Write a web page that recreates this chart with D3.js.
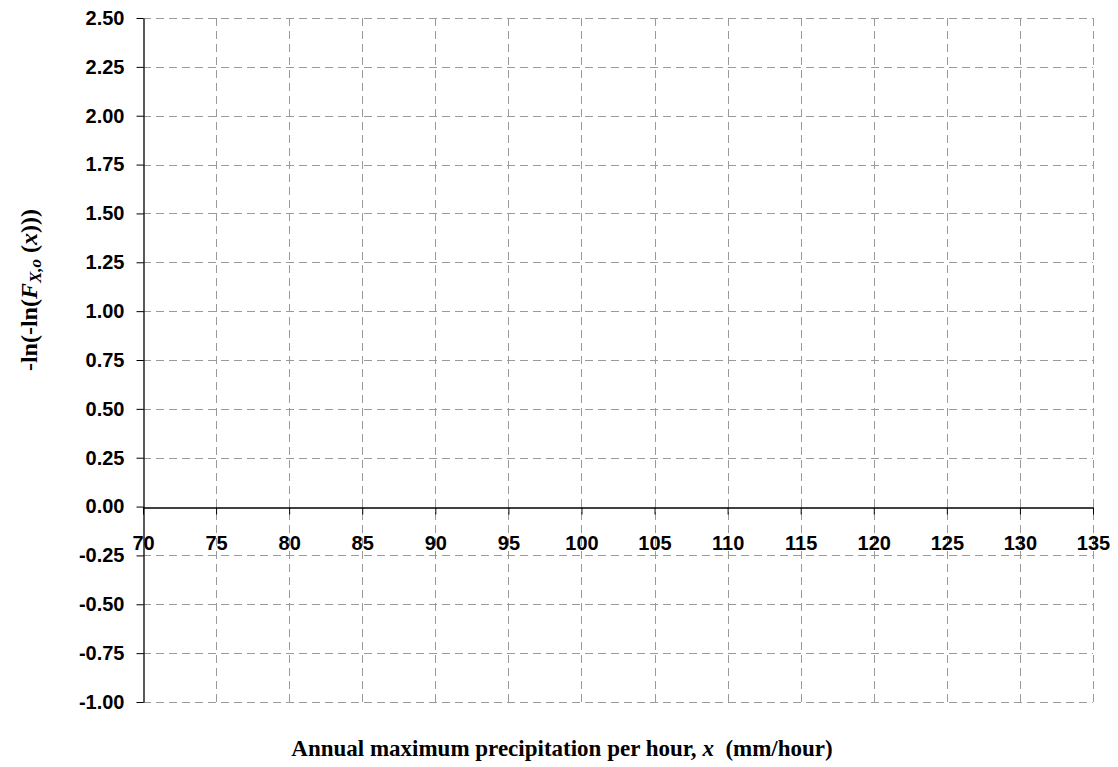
<!DOCTYPE html>
<html>
<head>
<meta charset="utf-8">
<script src="https://cdn.jsdelivr.net/npm/d3@7"></script>
<style>
  body { margin: 0; background: #fff; }
  svg { display: block; }
</style>
</head>
<body>
<svg id="chart" width="1118" height="767"></svg>
<script>
// axis ranges and ticks (the plot holds no series)
var xDomain = [70, 135]
var yDomain = [-1, 2.5]
var xTicks = [70, 75, 80, 85, 90, 95, 100, 105, 110, 115, 120, 125, 130, 135]
var yTicks = [-1, -0.75, -0.5, -0.25, 0, 0.25, 0.5, 0.75, 1, 1.25, 1.5, 1.75, 2, 2.25, 2.5]
var xTitle = "Annual maximum precipitation per hour, "
var xTitleVar = "x"
var xTitleUnit = "  (mm/hour)"

var margin = { top: 18, left: 143, right: 25, bottom: 65 }
var width = 1118
var height = 767
var chartWidth = width - margin.left - margin.right
var chartHeight = height - margin.top - margin.bottom

var svg = d3.select("#chart")
var g = svg.append("g")
    .attr("transform", `translate(${margin.left}, ${margin.top})`)

var xScale = d3.scaleLinear().domain(xDomain).range([0, chartWidth])
var yScale = d3.scaleLinear().domain(yDomain).range([chartHeight, 0])

// dashed grid
g.append("g").selectAll("line")
    .data(yTicks.filter(d => d != 0))
    .enter().append("line")
    .attr("x1", 0).attr("x2", chartWidth)
    .attr("y1", d => Math.round(yScale(d)) + 0.5)
    .attr("y2", d => Math.round(yScale(d)) + 0.5)
    .attr("stroke", "#9a9a9a")
    .attr("stroke-dasharray", "8,5")

g.append("g").selectAll("line")
    .data(xTicks.filter(d => d != xDomain[0]))
    .enter().append("line")
    .attr("x1", d => Math.round(xScale(d)) + 0.5)
    .attr("x2", d => Math.round(xScale(d)) + 0.5)
    .attr("y1", 0).attr("y2", chartHeight)
    .attr("stroke", "#9a9a9a")
    .attr("stroke-dasharray", "8,5")

// y axis, plain hyphen for negatives like the original
var fmt = d3.format(".2f")
var yAxis = d3.axisLeft(yScale)
    .tickValues(yTicks)
    .tickFormat(d => fmt(d).replace("\u2212", "-"))
    .tickSize(7)
    .tickPadding(12)
    .tickSizeOuter(0)

var yg = g.append("g").attr("transform", "translate(0.5,0)").call(yAxis)

// x axis sits on y = 0
var xAxis = d3.axisBottom(xScale)
    .tickValues(xTicks)
    .tickSize(7)
    .tickPadding(21)
    .tickSizeOuter(0)

var xg = g.append("g")
    .attr("transform", `translate(0, ${Math.round(yScale(0)) + 0.5})`)
    .call(xAxis)

svg.selectAll(".domain").attr("stroke", "#000").attr("stroke-width", 1.3)
svg.selectAll(".tick line").attr("stroke", "#000")
svg.selectAll(".tick text")
    .attr("fill", "#000")
    .style("font-family", "'Liberation Sans', Arial, sans-serif")
    .style("font-weight", "bold")
    .style("font-size", "20px")

// axis titles
var xt = svg.append("text")
    .attr("x", 562)
    .attr("y", 756)
    .attr("text-anchor", "middle")
    .style("font-family", "'Liberation Serif', 'Times New Roman', serif")
    .style("font-weight", "bold")
    .style("font-size", "23px")
xt.append("tspan").text(xTitle)
xt.append("tspan").style("font-style", "italic").text(xTitleVar)
xt.append("tspan").style("white-space", "pre").text(xTitleUnit)

var yt = svg.append("text")
    .attr("transform", "translate(37, 290) rotate(-90)")
    .attr("text-anchor", "middle")
    .style("font-family", "'Liberation Serif', 'Times New Roman', serif")
    .style("font-weight", "bold")
    .style("font-size", "24px")
yt.append("tspan").text("-ln(-ln(")
yt.append("tspan").style("font-style", "italic").text("F")
yt.append("tspan").style("font-style", "italic").style("font-size", "17px").attr("dy", 4).text("X,o")
yt.append("tspan").attr("dy", -4).style("white-space", "pre").text(" (")
yt.append("tspan").style("font-style", "italic").text("x")
yt.append("tspan").text(")))")
</script>
</body>
</html>
